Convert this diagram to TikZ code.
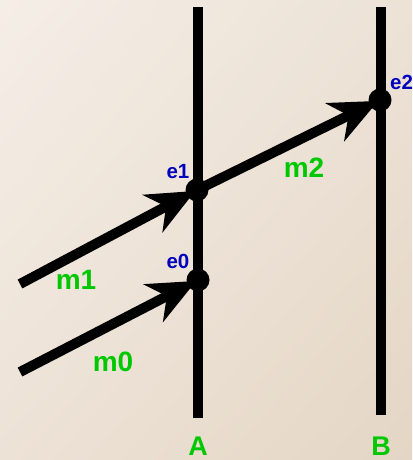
\documentclass[tikz,border=0pt]{standalone}
\usepackage{fontspec}
\setmainfont{Liberation Sans}
\usetikzlibrary{arrows.meta,shadings}
\definecolor{bgUL}{RGB}{245,238,231}
\definecolor{bgUR}{RGB}{236,226,214}
\definecolor{bgLL}{RGB}{237,226,214}
\definecolor{bgLR}{RGB}{228,214,197}
\definecolor{evblue}{RGB}{0,0,190}
\definecolor{msggreen}{RGB}{0,200,0}
\tikzset{
  worldline/.style={line width=10pt, black},
  msgarrow/.style={line width=10pt, black, -{Stealth[length=48pt, width=42pt, inset=15pt]}, shorten >=2pt},
  evdot/.style={circle, fill=black, inner sep=0pt, minimum size=23pt},
  evlabel/.style={text=evblue, font=\bfseries\fontsize{20.5}{20.5}\selectfont, inner sep=0pt},
  msglabel/.style={text=msggreen, font=\bfseries\fontsize{28}{28}\selectfont, inner sep=0pt},
  proclabel/.style={text=msggreen, font=\bfseries\fontsize{27}{27}\selectfont, inner sep=0pt}
}
\begin{document}
\begin{tikzpicture}[x=1pt, y=-1pt]
\useasboundingbox (0,0) rectangle (412,460);
\shade[upper left=bgUL, upper right=bgUR, lower left=bgLL, lower right=bgLR] (0,0) rectangle (412,460);
% world lines
\coordinate (Atop) at (198,7);
\coordinate (Abot) at (198,418);
\coordinate (Btop) at (381,7);
\coordinate (Bbot) at (381,415);
\draw[worldline] (Atop) -- (Abot);
\draw[worldline] (Btop) -- (Bbot);
% events
\coordinate (e0) at (198,280);
\coordinate (e1) at (197,190);
\coordinate (e2) at (380,100);
\coordinate (s0) at (20,372);
\coordinate (s1) at (20,284);
% messages
\draw[msgarrow] (s0) -- (e0);
\draw[msgarrow] (s1) -- (e1);
\draw[msgarrow] (e1) -- (e2);
\node[evdot] (d0) at (e0) {};
\node[evdot] (d1) at (e1) {};
\node[evdot] (d2) at (e2) {};
% labels
\node[evlabel] (le0) at (178,261) {e0};
\node[evlabel] (le1) at (178,172) {e1};
\node[evlabel, anchor=west] (le2) at (390,82) {e2};
\node[msglabel] (lm0) at (113,362) {m0};
\node[msglabel] (lm1) at (76,280) {m1};
\node[msglabel] (lm2) at (304,168) {m2};
\node[proclabel] (lA) at (198,446) {A};
\node[proclabel] (lB) at (381,446) {B};
\end{tikzpicture}
\end{document}
